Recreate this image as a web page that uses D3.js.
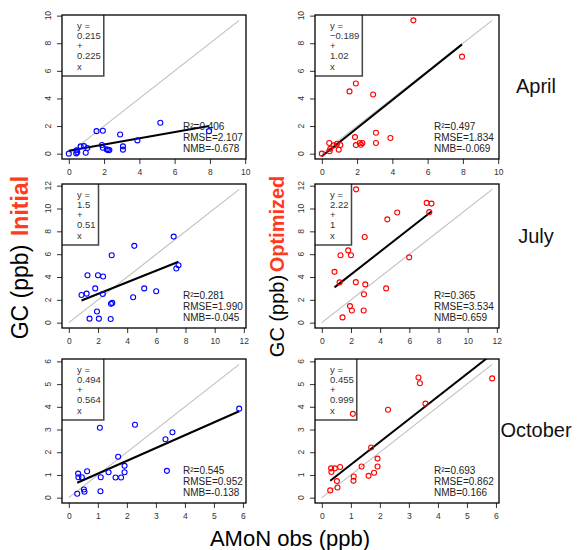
<!DOCTYPE html>
<html><head><meta charset="utf-8">
<script src="https://cdn.jsdelivr.net/npm/d3@7"></script>
<style>body{margin:0;background:#fff} text{font-family:"Liberation Sans",Arial,Helvetica,sans-serif}</style>
</head><body><svg id="c" width="578" height="550"></svg>
<script>
// ---------------- DATA ----------------
const months = ["April", "July", "October"];

const aprilObs       = [0, 0.42, 0.44, 0.48, 0.67, 0.86, 0.96, 1.05, 1.57, 1.88, 1.93, 1.93, 2.15, 2.22, 2.30, 2.91, 3.07, 3.07, 3.89, 5.19, 7.95];
const aprilInitial   = [0.0, 0.02, 0.24, 0.10, 0.53, 0.55, 0.07, 0.41, 1.63, 0.63, 1.66, 0.43, 0.31, 0.26, 0.26, 1.39, 0.53, 0.29, 0.96, 2.24, 1.63];
const aprilOptimized = [0.0, 0.77, 0.17, 0.36, 0.60, 0.72, 0.29, 0.62, 4.51, 1.20, 5.08, 0.62, 0.77, 0.65, 0.77, 4.29, 1.51, 0.77, 1.13, 9.66, 7.03];

const julyObs        = [0.87, 1.22, 1.28, 1.42, 1.81, 1.93, 2.00, 2.06, 2.33, 2.35, 2.87, 2.89, 2.94, 2.98, 4.41, 4.49, 5.17, 5.99, 7.19, 7.37, 7.52];
const julyInitial    = [2.43, 2.54, 4.16, 0.35, 3.00, 0.98, 4.16, 0.35, 2.51, 4.05, 0.32, 1.65, 5.90, 1.73, 2.23, 6.73, 3.00, 2.75, 7.54, 4.74, 5.03];
const julyOptimized  = [4.45, 3.53, 5.90, 0.46, 6.33, 1.45, 5.90, 1.07, 3.55, 11.68, 1.07, 2.49, 7.51, 3.35, 3.00, 9.05, 9.65, 5.72, 10.49, 9.68, 10.43];

const octObs         = [0.29, 0.32, 0.33, 0.45, 0.52, 0.54, 0.63, 1.07, 1.09, 1.10, 1.37, 1.61, 1.70, 1.80, 1.92, 1.92, 2.28, 3.33, 3.38, 3.57, 5.87];
const octInitial     = [0.17, 1.06, 0.90, 0.90, 0.36, 0.26, 1.16, 3.08, 0.28, 0.90, 1.12, 0.89, 1.80, 0.89, 1.40, 1.12, 3.21, 2.57, 1.18, 2.88, 3.92];
const octOptimized   = [0.32, 1.29, 1.13, 1.29, 0.73, 0.45, 1.35, 3.69, 0.74, 0.93, 1.37, 0.96, 2.21, 1.10, 1.72, 1.37, 3.87, 5.29, 5.04, 4.14, 5.25];

const aprilTicks = [0, 2, 4, 6, 8, 10];
const julyTicks  = [0, 2, 4, 6, 8, 10, 12];
const octTicks   = [0, 1, 2, 3, 4, 5, 6];

const initialCoef   = [[0.215, 0.225], [1.5, 0.51], [0.494, 0.564]];
const optimizedCoef = [[-0.189, 1.02], [2.22, 1], [0.455, 0.999]];
const initialCoefLabels   = [["0.215", "0.225"], ["1.5", "0.51"], ["0.494", "0.564"]];
const optimizedCoefLabels = [["\u22120.189", "1.02"], ["2.22", "1"], ["0.455", "0.999"]];
const initialStats   = [["0.406", "2.107", "-0.678"], ["0.281", "1.990", "-0.045"], ["0.545", "0.952", "-0.138"]];
const optimizedStats = [["0.497", "1.834", "-0.069"], ["0.365", "3.534", "0.659"], ["0.693", "0.862", "0.166"]];

const seriesNames = ["Initial", "Optimized"];
const yLabel = "GC (ppb)";
const xLabel = "AMoN obs (ppb)";

// ---------------- LAYOUT ----------------
const svg = d3.select("#c");
const colLeft = [62, 315], W = 184, H = 144;
const rowTop = [15, 184, 359];
const monthBaseline = [93, 243, 437];
const pointColors = ["#0000ff", "#ff0000"];
const labelRed = "#ff3b1d";

const rows = [
  {obs: aprilObs, series: [aprilInitial, aprilOptimized], ticks: aprilTicks},
  {obs: julyObs,  series: [julyInitial,  julyOptimized],  ticks: julyTicks},
  {obs: octObs,   series: [octInitial,   octOptimized],   ticks: octTicks}
];
const coefs = [initialCoef, optimizedCoef];
const coefLabels = [initialCoefLabels, optimizedCoefLabels];
const stats = [initialStats, optimizedStats];

rows.forEach((r, i) => {
  const mx = d3.max([...r.obs, ...r.series[0], ...r.series[1]]);
  const dom = [-0.04 * mx, 1.04 * mx];
  r.series.forEach((vals, j) => {
    const x0 = colLeft[j], y0 = rowTop[i];
    const x = d3.scaleLinear().domain(dom).range([x0, x0 + W]);
    const y = d3.scaleLinear().domain(dom).range([y0 + H, y0]);
    const g = svg.append("g");
    const cid = `clip${i}${j}`;
    g.append("clipPath").attr("id", cid).append("rect")
      .attr("x", x0).attr("y", y0).attr("width", W).attr("height", H);

    // x axis
    const ax = g.append("g").attr("transform", `translate(0,${y0 + H})`)
      .call(d3.axisBottom(x).tickValues(r.ticks).tickSize(5).tickPadding(5).tickFormat(d3.format("d")));
    ax.select(".domain").remove();
    ax.selectAll("line").attr("stroke", "#333");
    ax.selectAll("text").attr("fill", "#333").attr("font-size", 8.5)
      .style("font-family", "'Liberation Sans',Arial,sans-serif");

    // y axis
    const ay = g.append("g").attr("transform", `translate(${x0},0)`)
      .call(d3.axisLeft(y).tickValues(r.ticks).tickSize(5).tickFormat(""));
    ay.select(".domain").remove();
    ay.selectAll("line").attr("stroke", "#333");
    g.selectAll(".ylab").data(r.ticks).enter().append("text")
      .attr("transform", d => `translate(${x0 - 14},${y(d)}) rotate(-90)`)
      .attr("text-anchor", "middle").attr("dominant-baseline", "central")
      .attr("font-size", 8.5).attr("fill", "#333").text(d => d);

    const inner = g.append("g").attr("clip-path", `url(#${cid})`);
    // 1:1 line
    inner.append("line").attr("x1", x(0)).attr("y1", y(0)).attr("x2", x(mx)).attr("y2", y(mx))
      .attr("stroke", "#bebebe").attr("stroke-width", 1.1);
    // regression line
    const [a, b] = coefs[j][i];
    const xmin = d3.min(r.obs), xmax = d3.max(r.obs);
    inner.append("line").attr("x1", x(xmin)).attr("y1", y(a + b * xmin))
      .attr("x2", x(xmax)).attr("y2", y(a + b * xmax))
      .attr("stroke", "#000").attr("stroke-width", 2);
    // points
    inner.selectAll("circle").data(r.obs.map((o, k) => [o, vals[k]])).enter().append("circle")
      .attr("cx", d => x(d[0])).attr("cy", d => y(d[1])).attr("r", 2.5)
      .attr("fill", "none").attr("stroke", pointColors[j]).attr("stroke-width", 1.1);

    // legend
    const lg = g.append("g");
    const lines = ["y =", coefLabels[j][i][0], "+", coefLabels[j][i][1], "x"];
    const tx = x0 + 15;
    const texts = lg.selectAll("text").data(lines).enter().append("text")
      .attr("x", tx).attr("y", (d, k) => y0 + 10 + k * 10.3)
      .attr("dominant-baseline", "central").attr("font-size", 9.5).attr("fill", "#333").text(d => d);
    let maxw = 0;
    texts.each(function () { maxw = Math.max(maxw, this.getComputedTextLength()); });
    const lr = tx + maxw + 3, lb = y0 + 61;
    lg.append("path").attr("d", `M${lr},${y0} V${lb} H${x0}`).attr("fill", "none")
      .attr("stroke", "#444").attr("stroke-width", 1.5);

    // stats
    const st = stats[j][i];
    const sx = x0 + (j === 0 ? 121 : 119);
    const sl = [`R\u00b2=${st[0]}`, `RMSE=${st[1]}`, `NMB=${st[2]}`];
    g.selectAll(".st").data(sl).enter().append("text")
      .attr("x", sx).attr("y", (d, k) => y0 + H - 33 + k * 11.2)
      .attr("dominant-baseline", "central").attr("font-size", 10).attr("fill", "#222").text(d => d);

    // box
    g.append("rect").attr("x", x0).attr("y", y0).attr("width", W).attr("height", H)
      .attr("fill", "none").attr("stroke", "#000").attr("stroke-width", 1.3);
  });
  // month label
  svg.append("text").attr("x", 536).attr("y", monthBaseline[i]).attr("text-anchor", "middle")
    .attr("font-size", 20).attr("fill", "#111").text(months[i]);
});

// side labels
function sideLabel(cx, cyGC, cyName, name, fs) {
  svg.append("text").attr("transform", `translate(${cx},${cyGC}) rotate(-90)`)
    .attr("text-anchor", "middle").attr("dominant-baseline", "central")
    .attr("font-size", fs).attr("fill", "#000").text(yLabel);
  svg.append("text").attr("transform", `translate(${cx},${cyName}) rotate(-90)`)
    .attr("text-anchor", "middle").attr("dominant-baseline", "central")
    .attr("font-size", fs).attr("font-weight", "bold").attr("fill", labelRed).text(name);
}
sideLabel(20, 292, 206, seriesNames[0], 23);
sideLabel(277, 316, 224, seriesNames[1], 20);

svg.append("text").attr("x", 290).attr("y", 538).attr("text-anchor", "middle")
  .attr("dominant-baseline", "central").attr("font-size", 22).attr("fill", "#000").text(xLabel);
</script></body></html>
